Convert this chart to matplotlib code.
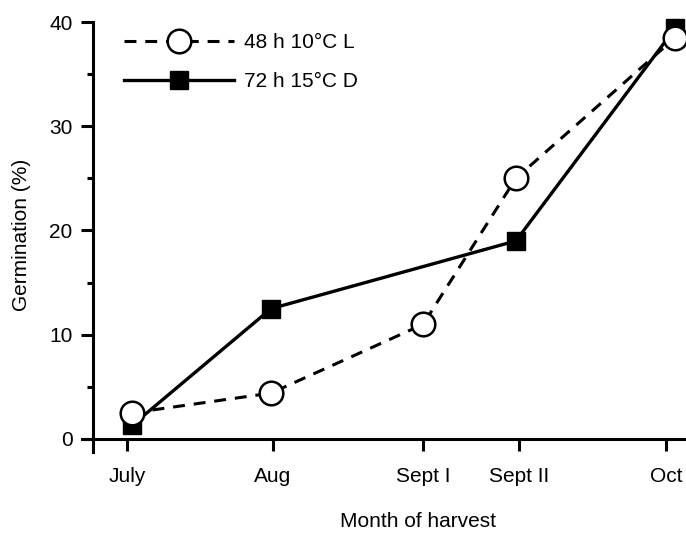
import matplotlib
matplotlib.use("Agg")
import matplotlib.pyplot as plt

plt.rcParams['font.family'] = ['Liberation Sans', 'DejaVu Sans']

# harvest dates (days after July harvest) and tick positions
months = ['July', 'Aug', 'Sept I', 'Sept II', 'Oct']
tick_pos = [0, 32.4, 65.8, 87.1, 119.8]

x_10L = [1.1, 32.0, 65.8, 86.4, 121.8]
germ_10L = [2.5, 4.4, 11.0, 25.0, 38.5]     # 48 h 10°C L

x_15D = [1.1, 32.0, 86.4, 121.8]
germ_15D = [1.3, 12.5, 19.0, 39.4]          # 72 h 15°C D

fig = plt.figure(figsize=(6.86, 5.34), dpi=100)
ax = fig.add_axes([82/686, 82/534, 604/686, 430/534])

ax.plot(x_10L, germ_10L, color='black', lw=2.2, linestyle=(0, (3.9, 2.9)),
        marker='o', ms=17, mfc='white', mec='black', mew=1.8,
        clip_on=False, zorder=4, label='48 h 10°C L')
ax.plot(x_15D, germ_15D, color='black', lw=2.4, linestyle='-',
        marker='s', ms=13.5, mfc='black', mec='black',
        clip_on=False, zorder=3, label='72 h 15°C D')

ax.set_xlim(-10, 124.2)
ax.set_ylim(-1.25, 40)

for s in ['top', 'right']:
    ax.spines[s].set_visible(False)
ax.spines['left'].set_position(('data', -7.6))
ax.spines['bottom'].set_position(('data', 0))
ax.spines['left'].set_linewidth(2.2)
ax.spines['bottom'].set_linewidth(2.2)

ax.set_xticks(tick_pos)
ax.set_xticklabels(months)
ax.set_yticks([0, 10, 20, 30, 40])
ax.set_yticks([5, 15, 25, 35], minor=True)
ax.tick_params(axis='both', which='major', direction='out', length=8.5,
               width=2.2, labelsize=15)
ax.tick_params(axis='y', which='minor', direction='out', length=4, width=2.2)
ax.tick_params(axis='x', pad=12)
ax.tick_params(axis='y', pad=6)

ax.set_xlabel('Month of harvest', fontsize=15)
ax.xaxis.set_label_coords(0.556, -0.14)
ax.set_ylabel('Germination (%)', fontsize=15)
ax.yaxis.set_label_coords(-0.085, 0.505)

ax.legend(loc='upper left', bbox_to_anchor=(124/686, 1 - 33/534),
          bbox_transform=fig.transFigure, frameon=False, fontsize=15,
          handlelength=5.3, handletextpad=0.45, labelspacing=0.95,
          borderpad=0, borderaxespad=0)

fig.savefig('out.png', dpi=100)
